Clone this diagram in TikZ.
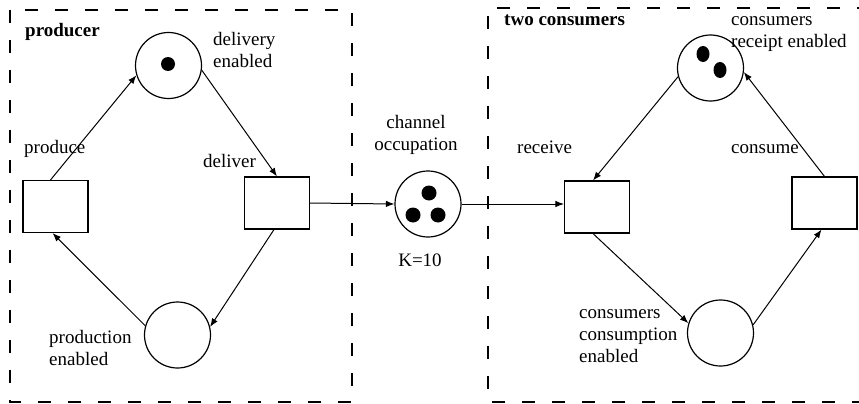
\documentclass[tikz,border=0pt]{standalone}
\usepackage{fontspec}
\setmainfont{Liberation Serif}
\usetikzlibrary{arrows.meta,calc}
\begin{document}
\begin{tikzpicture}[x=1pt,y=-1pt,
  place/.style={circle,draw,line width=1.2pt,minimum size=66pt,inner sep=0pt},
  trans/.style={rectangle,draw,line width=1.1pt,minimum width=65pt,minimum height=52pt,inner sep=0pt},
  flow/.style={line width=1pt,-{Latex[length=8.5pt,width=6.5pt]}},
  token/.style={fill=black},
  region/.style={line width=1.4pt,dash pattern=on 13pt off 17pt},
  lbl/.style={font=\fontsize{19}{22}\selectfont,inner sep=0pt,align=left,anchor=north west},
  ]
\useasboundingbox (0,0) rectangle (859,404);

% subsystem frames
\draw[region] (10,10) rectangle (352,402);
\draw[region] (870,8) -- (488,8) -- (488,402) -- (870,402);

% places
\node[place] (pDelivery)    at (168.5,65.5) {};
\node[place] (pProduction)  at (177.5,335)  {};
\node[place] (pChannel)     at (428,204)    {};
\node[place] (pReceipt)     at (710.5,68)   {};
\node[place] (pConsumption) at (720.5,333)  {};

% transitions
\node[trans] (tProduce) at (55.5,206.5) {};
\node[trans] (tDeliver) at (277,203)    {};
\node[trans] (tReceive) at (597,207)    {};
\node[trans] (tConsume) at (824.5,203)  {};

% tokens
\fill[token] (168,64) circle (7);
\fill[token] (429,193) circle (7.5);
\fill[token] (413,215) circle (7.5);
\fill[token] (438,215) circle (7.5);
\fill[token] (703,54) ellipse (6.5 and 8);
\fill[token] (720,70) ellipse (6.5 and 8);

% arcs
\draw[flow] ($(tProduce.north)+(-5,0)$) -- (pDelivery.197);
\draw[flow] (pDelivery.352) -- (tDeliver.north);
\draw[flow] ($(tDeliver.south)+(-3,0)$) -- (pProduction.14);
\draw[flow] (pProduction.164) -- ($(tProduce.south)+(-3,0)$);
\draw[flow] (tDeliver.east) -- (pChannel.west);
\draw[flow] (pChannel.east) -- (pChannel.east -| tReceive.west);
\draw[flow] ($(tReceive.south)+(-4,0)$) -- (pConsumption.163);
\draw[flow] (pConsumption.14) -- ($(tConsume.south)+(-3,0)$);
\draw[flow] (tConsume.north) -- (pReceipt.353);
\draw[flow] (pReceipt.195) -- ($(tReceive.north)+(-4,0)$);

% labels
\node[lbl] (lProducer)  at (25,20.6)    {\strut\bfseries producer};
\node[lbl] (lDelivery)  at (213,29.6)   {\strut delivery\\enabled};
\node[lbl] (lProduce)   at (24,137.6)   {\strut produce};
\node[lbl] (lDeliver)   at (203,151.6)  {\strut deliver};
\node[lbl] (lProdEn)    at (49,327.6)   {\strut production\\enabled};
\node[lbl,align=center,anchor=north] (lChannel) at (416,112.6) {\strut channel\\occupation};
\node[lbl,anchor=base] (lCap) at (420,266) {K=10};
\node[lbl] (lConsumers) at (504,9.6)    {\strut\bfseries two consumers};
\node[lbl] (lReceipt)   at (731,9.6)    {\strut consumers\\receipt enabled};
\node[lbl] (lReceive)   at (517,137.6)  {\strut receive};
\node[lbl] (lConsume)   at (731,137.6)  {\strut consume};
\node[lbl] (lConsEn)    at (579,302.6)  {\strut consumers\\consumption\\enabled};
\end{tikzpicture}
\end{document}
